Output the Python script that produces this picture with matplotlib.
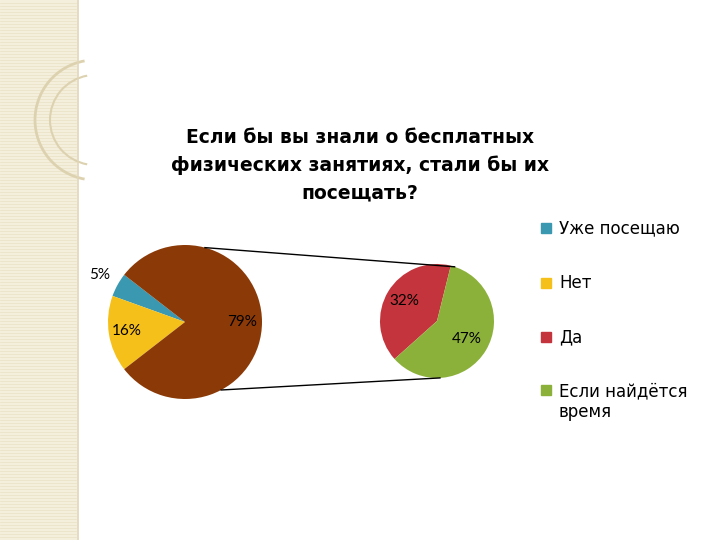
import matplotlib
matplotlib.use("Agg")
import matplotlib.pyplot as plt
import numpy as np
from matplotlib.patches import Rectangle, Arc

plt.rcParams['font.family'] = ['DejaVu Sans']

title = "Если бы вы знали о бесплатных\nфизических занятиях, стали бы их\nпосещать?"
legend_labels = ["Уже посещаю", "Нет", "Да", "Если найдётся\nвремя"]
colors = ["#3a98b0", "#f6c01a", "#c4343c", "#8cb13a"]
brown = "#8b3a07"
main_values = [5, 16, 79]          # Уже посещаю, Нет, (Да + Если найдётся время)
main_labels = ["5%", "16%", "79%"]
sub_values = [32, 47]              # Да, Если найдётся время
sub_labels = ["32%", "47%"]

fig = plt.figure(figsize=(7.2, 5.4), dpi=100)
ax = fig.add_axes([0, 0, 1, 1])
ax.set_xlim(0, 720); ax.set_ylim(0, 540); ax.set_aspect('equal'); ax.axis('off')

# decorative left strip
ax.add_patch(Rectangle((0, 0), 76, 540, color="#f4efdc", zorder=0))
for y in np.arange(0, 540, 3):
    ax.plot([0, 76], [y, y], color="#ebe2c4", lw=0.5, zorder=0)
ax.plot([78, 78], [0, 540], color="#e0d6b8", lw=1.2)
ax.add_patch(Arc((95, 420), 120, 120, theta1=100, theta2=260, color="#ddd2b0", lw=2))
ax.add_patch(Arc((95, 420), 90, 90, theta1=100, theta2=260, color="#ddd2b0", lw=1.5))

H = 540
c1 = (185, H - 322); r1 = 77
c2 = (437, H - 321); r2 = 57

# main pie: brown centered at 0 deg
brown_span = main_values[2] / 100 * 360
start = brown_span / 2
wedges, _ = ax.pie(main_values, colors=[colors[0], colors[1], brown], center=c1, radius=r1,
                   startangle=start, counterclock=True, frame=True,
                   wedgeprops=dict(linewidth=0))
# order: teal from start... adjust: draw order teal, yellow, brown counterclockwise
ax.set_xlim(0, 720); ax.set_ylim(0, 540); ax.axis('off')

# label positions
dists = [1.27, 0.76, 0.74]
ang = start
for v, lab, d in zip(main_values, main_labels, dists):
    mid = np.deg2rad(ang + v / 100 * 360 / 2)
    ax.text(c1[0] + d * r1 * np.cos(mid), c1[1] + d * r1 * np.sin(mid), lab,
            ha='center', va='center', fontsize=11, family='Lato')
    ang += v / 100 * 360

tot = sum(sub_values)
red_start = 76
ax.pie(sub_values, colors=[colors[2], colors[3]], center=c2, radius=r2,
       startangle=red_start, counterclock=True, frame=True, wedgeprops=dict(linewidth=0))
ax.set_xlim(0, 720); ax.set_ylim(0, 540); ax.axis('off')
ang = red_start
for v, lab, d in zip(sub_values, sub_labels, [0.67, 0.61]):
    mid = np.deg2rad(ang + v / tot * 360 / 2)
    ax.text(c2[0] + d * r2 * np.cos(mid), c2[1] + d * r2 * np.sin(mid), lab,
            ha='center', va='center', fontsize=11, family='Lato')
    ang += v / tot * 360

def pt(c, r, a):
    a = np.deg2rad(a)
    return c[0] + r * np.cos(a), c[1] + r * np.sin(a)
for a1, a2 in [(75, 72), (-62, -87)]:
    p1 = pt(c1, r1, a1); p2 = pt(c2, r2, a2)
    ax.plot([p1[0], p2[0]], [p1[1], p2[1]], color='black', lw=1)

ax.text(360, H - 165, title, ha='center', va='center', fontsize=13.5,
        fontweight='bold', linespacing=1.55)

ys = [228, 283, 337, 390]
for y, lab, col in zip(ys, legend_labels, colors):
    ax.add_patch(Rectangle((541, H - y - 5), 10, 10, color=col))
    ax.text(559, H - y, lab, ha='left', va='top' if '\n' in lab else 'center',
            fontsize=12, linespacing=1.3, transform=ax.transData) if False else \
    ax.text(559, H - y + (8 if '\n' in lab else 0), lab, ha='left',
            va='top' if '\n' in lab else 'center', fontsize=12, linespacing=1.2)

fig.savefig("out.png", dpi=100)
